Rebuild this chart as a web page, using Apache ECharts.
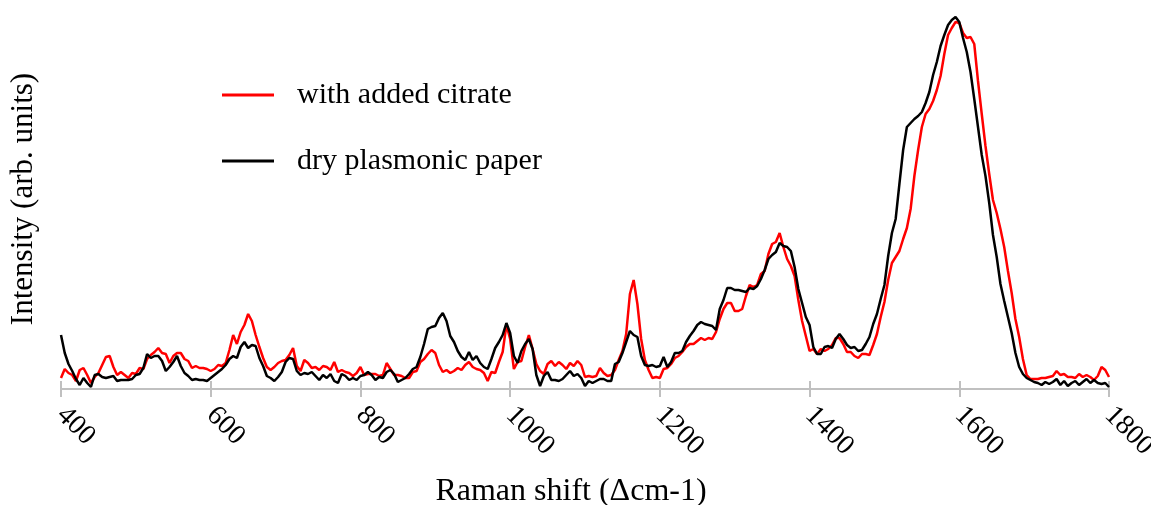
<!DOCTYPE html>
<html>
<head>
<meta charset="utf-8">
<title>Raman spectra</title>
<script src="https://cdn.jsdelivr.net/npm/echarts@6/dist/echarts.min.js"></script>
<style>
  html, body { margin: 0; padding: 0; background: #ffffff; }
  #chart { width: 1151px; height: 505px; }
</style>
</head>
<body>
<div id="chart"></div>
<script>
// Raman shift grid (cm-1): 400 to 1800 in steps of 5
const shiftStart = 400;
const shiftStep = 5;

// Intensity (arb. units), one value per grid point
const citrateIntensity = [
  11,20,16,14,8,19,21,14,6,12,16,24,32,33,22,14,17,14,11,16,
  15,21,20,30,34,37,41,36,35,26,33,36,36,30,28,21,23,21,21,20,
  18,20,24,23,26,39,54,45,57,64,75,68,54,42,31,22,19,22,26,28,
  29,34,41,23,18,29,26,21,22,19,23,22,19,27,17,19,17,16,13,16,
  22,14,15,15,15,13,14,26,20,14,14,13,11,11,17,18,27,30,35,39,
  36,24,17,19,16,18,21,19,24,27,22,20,19,16,8,17,16,27,37,64,
  50,20,27,28,42,54,40,25,18,15,25,28,23,27,24,20,26,23,28,24,
  12,13,12,13,21,16,13,14,19,29,38,55,95,109,85,50,29,19,11,12,
  11,20,21,25,31,33,37,42,45,45,48,51,49,51,50,57,70,80,86,86,
  78,78,80,93,104,102,104,115,118,135,145,147,156,142,130,123,113,89,68,53,
  38,40,35,40,38,40,44,51,51,45,37,37,33,31,35,35,34,44,55,72,
  87,109,126,132,138,150,161,180,213,239,262,275,280,288,299,313,335,354,361,367,
  366,356,351,352,345,308,275,243,215,189,176,160,142,118,96,70,52,30,14,10,
  10,10,11,11,12,13,18,14,15,12,12,11,15,12,14,12,9,13,22,19,
  12
];

const dryIntensity = [
  54,36,25,18,10,4,11,6,2,14,15,12,11,12,13,8,9,9,9,10,
  14,15,21,35,31,33,33,28,18,22,27,33,23,16,13,9,10,9,9,8,
  11,14,17,20,24,30,33,31,42,47,41,44,43,31,23,13,11,8,12,17,
  27,31,30,18,14,16,15,17,13,9,14,11,15,8,6,15,13,9,11,9,
  13,14,17,14,9,12,11,17,19,15,7,9,11,15,20,22,32,45,60,62,
  63,71,76,68,53,47,38,32,29,37,29,33,26,22,20,30,41,47,54,66,
  56,33,26,38,45,50,40,14,3,13,17,9,9,8,10,14,18,13,15,11,
  3,8,6,8,10,10,8,8,25,27,36,47,58,54,52,33,24,23,24,22,
  23,32,22,27,36,36,38,47,53,58,64,67,65,64,63,59,80,89,101,101,
  99,99,98,97,101,100,103,110,119,130,134,137,146,143,142,138,122,100,86,72,
  64,42,35,35,42,43,41,50,55,50,44,41,42,38,39,45,52,65,75,90,
  104,133,156,170,205,239,262,266,270,273,277,286,297,314,327,343,354,364,369,372,
  367,351,337,317,290,262,234,213,186,154,132,105,88,72,56,36,22,15,11,9,
  7,6,4,7,5,7,10,4,8,3,6,8,4,7,10,6,9,6,5,6,
  2
];

const seriesNames = ['with added citrate', 'dry plasmonic paper'];
const seriesColors = ['#ff0000', '#000000'];
const xTitle = 'Raman shift (\u0394cm-1)';
const yTitle = 'Intensity (arb. units)';

function pairs(values) {
  return values.map((v, i) => [shiftStart + i * shiftStep, v]);
}

const serif = '"Liberation Serif", "Times New Roman", serif';
const axisGray = '#c0c0c0';

const chart = echarts.init(document.getElementById('chart'), null, { renderer: 'canvas' });

chart.setOption({
  animation: false,
  backgroundColor: '#ffffff',
  grid: { left: 61, right: 42, top: 9, bottom: 116, containLabel: false, outerBoundsMode: 'none' },
  legend: {
    data: seriesNames,
    orient: 'vertical',
    left: 222,
    top: 80,
    padding: 0,
    itemGap: 36,
    icon: 'rect',
    itemWidth: 52,
    itemHeight: 3,
    selectedMode: false,
    textStyle: {
      fontFamily: serif,
      fontSize: 30,
      color: '#000000',
      padding: [0, 0, 0, 18]
    }
  },
  xAxis: [
    {
      type: 'value',
      min: 400,
      max: 1800,
      interval: 200,
      name: xTitle,
      nameLocation: 'middle',
      nameGap: 87,
      nameTextStyle: {
        fontFamily: serif,
        fontSize: 32,
        color: '#000000',
        padding: [0, 28, 0, 0]
      },
      axisLine: { show: true, lineStyle: { color: axisGray, width: 2 } },
      axisTick: { show: true, inside: false, length: 8, lineStyle: { color: axisGray, width: 2 } },
      axisLabel: {
        rotate: -45,
        margin: 22,
        fontFamily: serif,
        fontSize: 28,
        color: '#000000',
        formatter: (v) => String(v)
      },
      splitLine: { show: false }
    },
    {
      // upper half of the crossing tick marks
      type: 'value',
      position: 'bottom',
      min: 400,
      max: 1800,
      interval: 200,
      axisLine: { show: false },
      axisTick: { show: true, inside: true, length: 8, lineStyle: { color: axisGray, width: 2 } },
      axisLabel: { show: false },
      splitLine: { show: false }
    }
  ],
  yAxis: {
    type: 'value',
    min: 0,
    max: 380,
    name: yTitle,
    nameLocation: 'middle',
    nameGap: 22,
    nameTextStyle: { fontFamily: serif, fontSize: 31, color: '#000000' },
    axisLine: { show: false },
    axisTick: { show: false },
    axisLabel: { show: false },
    splitLine: { show: false }
  },
  series: [
    {
      name: seriesNames[0],
      type: 'line',
      data: pairs(citrateIntensity),
      symbol: 'none',
      silent: true,
      color: seriesColors[0],
      lineStyle: { color: seriesColors[0], width: 2.5 },
      z: 2
    },
    {
      name: seriesNames[1],
      type: 'line',
      data: pairs(dryIntensity),
      symbol: 'none',
      silent: true,
      color: seriesColors[1],
      lineStyle: { color: seriesColors[1], width: 2.5 },
      z: 3
    }
  ]
});
</script>
</body>
</html>
